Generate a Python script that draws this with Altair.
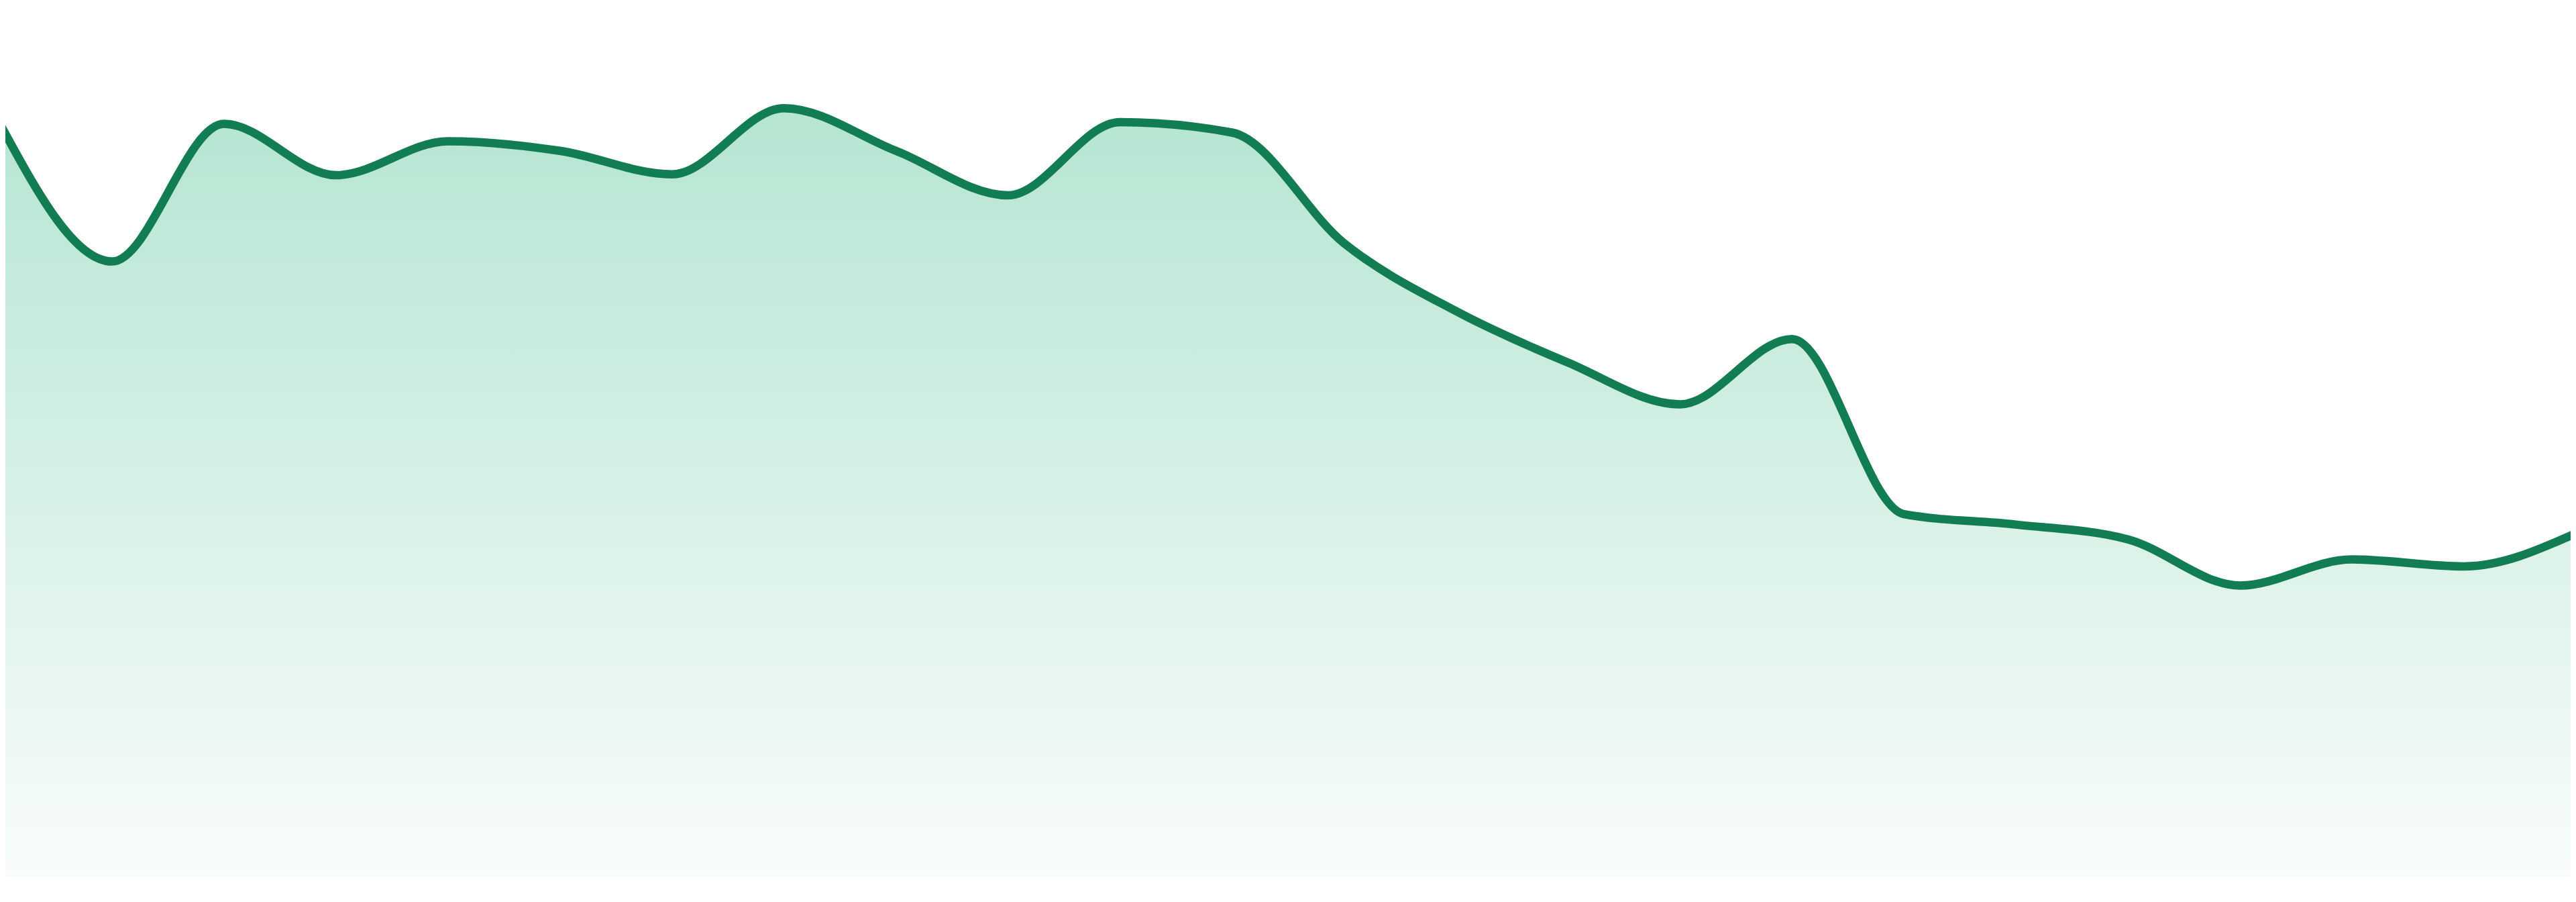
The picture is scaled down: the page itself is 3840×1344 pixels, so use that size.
import altair as alt
import pandas as pd

periods = list(range(24))
values = [86.4, 70.6, 86.4, 80.5, 84.4, 83.3, 80.6, 88.2, 83.3, 78.2, 86.6, 85.4,
          72.7, 64.9, 59.0, 54.2, 61.7, 41.6, 40.4, 38.7, 33.4, 36.4, 35.6, 39.4]

LINE_COLOR = "#127C52"
FILL_TOP = "#B5E5D2"
FILL_BOTTOM = "#F8FCFA"

df = pd.DataFrame({"period": periods, "value": values})

x_enc = alt.X("period:Q", axis=None,
              scale=alt.Scale(domain=[0.0479, 22.952], nice=False, zero=False))
y_enc = alt.Y("value:Q", axis=None,
              scale=alt.Scale(domain=[0, 100], nice=False, zero=True))

area = alt.Chart(df).mark_area(
    interpolate="monotone",
    clip=True,
    color=alt.Gradient(
        gradient="linear",
        stops=[alt.GradientStop(color=FILL_TOP, offset=0),
               alt.GradientStop(color=FILL_BOTTOM, offset=1)],
        x1=1, x2=1, y1=0, y2=1,
    ),
).encode(x=x_enc, y=y_enc)

line = alt.Chart(df).mark_line(
    interpolate="monotone",
    clip=True,
    color=LINE_COLOR,
    strokeWidth=12.5,
    strokeCap="butt",
    strokeJoin="round",
).encode(x=x_enc, y=y_enc)

chart = alt.layer(area, line).properties(
    width=3824,
    height=1298,
    padding=0,
    autosize=alt.AutoSizeParams(type="none"),
    background="white",
).configure_view(stroke=None)

chart.save("out.html", embed_options={"renderer": "svg", "actions": False})
